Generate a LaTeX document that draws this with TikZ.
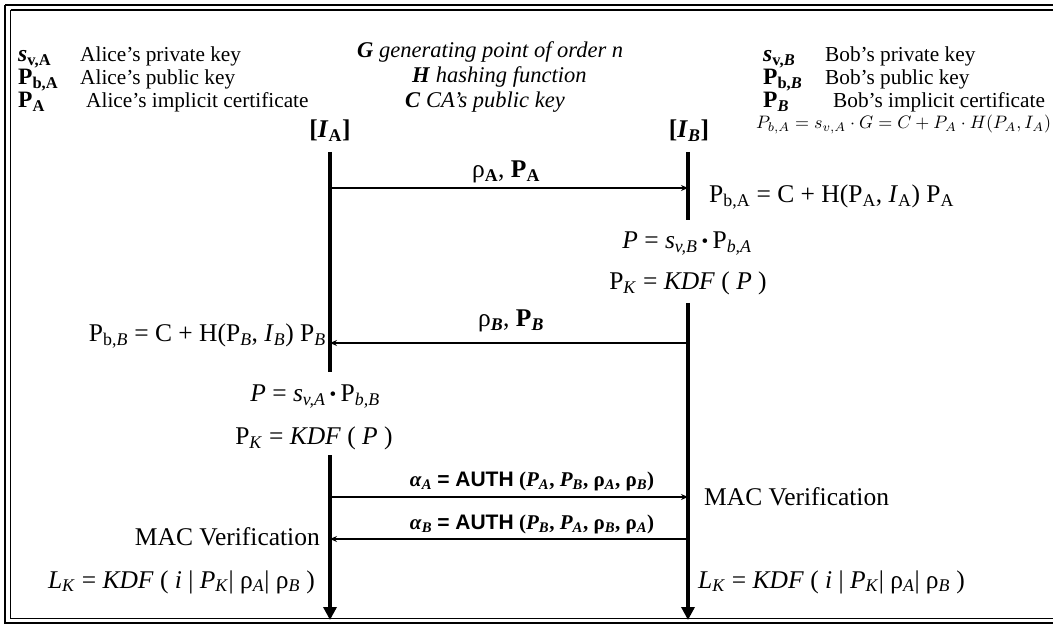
\documentclass[tikz,border=0pt]{standalone}
\usepackage{fontspec}
\setmainfont{Liberation Serif}
\setsansfont{Liberation Sans}
\usetikzlibrary{arrows.meta}
\newcommand\sbs[1]{\textsubscript{#1}}
\newcommand\cdotb{\,\raisebox{0.12ex}{\scalebox{0.75}{\textbullet}}\,}
\begin{document}
\begin{tikzpicture}[x=1pt,y=-1pt,
  txt/.style={inner sep=0pt, font=\fontsize{25.5}{30}\selectfont},
  leg/.style={inner sep=0pt, font=\fontsize{21.3}{25}\selectfont},
  sym/.style={inner sep=0pt, font=\fontsize{23.5}{27}\selectfont},
  mleg/.style={inner sep=0pt, font=\fontsize{22.5}{26}\selectfont},
  lab/.style={inner sep=0pt, font=\fontsize{21}{25}\selectfont},
  life/.style={line width=3.5pt},
  lifearrow/.style={line width=3.5pt, -{Triangle[width=13pt,length=13pt]}},
  msg/.style={line width=1.8pt, -{Stealth[length=7pt,width=6pt]}}]
\useasboundingbox (0,0) rectangle (1053,628);
% frame
\draw[line width=2.5pt] (5,5) -- (1070,5) (5,5) -- (5,623) -- (1070,623);
\draw[line width=1.1pt] (10.5,10) -- (1070,10) (10.5,10) -- (10.5,618.5) -- (1070,618.5);

% left legend
\node[sym, anchor=base west] (l1s) at (18,62) {\textbf{\textit{s}\sbs{v,A}}};
\node[leg, anchor=base west] (l1t) at (80,62) {Alice's private key};
\node[sym, anchor=base west] (l2s) at (18,85) {\textbf{P\sbs{b,A}}};
\node[leg, anchor=base west] (l2t) at (80,85) {Alice's public key};
\node[sym, anchor=base west] (l3s) at (18,108) {\textbf{P\sbs{A}}};
\node[leg, anchor=base west] (l3t) at (86,108) {Alice's implicit certificate};
% middle legend
\node[mleg, anchor=base west] (m1) at (357,58) {\textbf{\textit{G}} \textit{generating point of order n}};
\node[mleg, anchor=base west] (m2) at (412,83) {\textbf{\textit{H}} \textit{hashing function}};
\node[mleg, anchor=base west] (m3) at (405,108) {\textbf{\textit{C}} \textit{CA's public key}};
% right legend
\node[sym, anchor=base west] (r1s) at (763,62) {\textbf{\textit{s}\sbs{v,\textit{B}}}};
\node[leg, anchor=base west] (r1t) at (825,62) {Bob's private key};
\node[sym, anchor=base west] (r2s) at (763,85) {\textbf{P\sbs{b,\textit{B}}}};
\node[leg, anchor=base west] (r2t) at (825,85) {Bob's public key};
\node[sym, anchor=base west] (r3s) at (763,108) {\textbf{P\sbs{\textit{B}}}};
\node[leg, anchor=base west] (r3t) at (833,108) {Bob's implicit certificate};
\node[inner sep=0pt, anchor=base west] (rf) at (756,129) {\scalebox{1.8}{$P_{b,A}=s_{v,A}\cdot G=C+P_A\cdot H(P_A,I_A)$}};

% lifeline heads
\node[txt, anchor=base] (ia) at (330,138) {\textbf{[\textit{I}\sbs{A}]}};
\node[txt, anchor=base] (ib) at (689,138) {\textbf{[\textit{I}\sbs{\textit{B}}]}};

% lifeline coordinates
\coordinate (a0) at (330,152);
\coordinate (a1) at (330,372);
\coordinate (a2) at (330,455);
\coordinate (a3) at (330,620);
\coordinate (b0) at (688,152);
\coordinate (b1) at (688,220);
\coordinate (b2) at (688,303);
\coordinate (b3) at (688,620);
\coordinate (am1) at (330,188);  \coordinate (bm1) at (688,188);
\coordinate (am2) at (330,343);  \coordinate (bm2) at (688,343);
\coordinate (am3) at (330,497);  \coordinate (bm3) at (688,497);
\coordinate (am4) at (330,539);  \coordinate (bm4) at (688,539);

\draw[life] (a0) -- (a1);
\draw[lifearrow] (a2) -- (a3);
\draw[life] (b0) -- (b1);
\draw[lifearrow] (b2) -- (b3);

% messages
\draw[msg] (am1) -- (bm1);
\draw[msg] (bm2) -- (am2);
\draw[msg] (am3) -- (bm3);
\draw[msg] (bm4) -- (am4);

\node[txt, anchor=base] (m1l) at (506,178) {ρ\sbs{\textbf{A}}, \textbf{P\sbs{A}}};
\node[txt, anchor=base] (m2l) at (511,327) {ρ\sbs{\textbf{\textit{B}}}, \textbf{P\sbs{\textit{B}}}};
\node[lab, anchor=base] (m3l) at (532,486) {\textbf{\textit{α}\sbs{\textit{A}}} {\sffamily\bfseries = AUTH} \textbf{(\textit{P}\sbs{\textit{A}}, \textit{P}\sbs{\textit{B}}, ρ\sbs{\textit{A}}, ρ\sbs{\textit{B}})}};
\node[lab, anchor=base] (m4l) at (532,529) {\textbf{\textit{α}\sbs{\textit{B}}} {\sffamily\bfseries = AUTH} \textbf{(\textit{P}\sbs{\textit{B}}, \textit{P}\sbs{\textit{A}}, ρ\sbs{\textit{B}}, ρ\sbs{\textit{A}})}};

% Bob side computations
\node[txt, anchor=base west] (bpa) at (709,203) {P\sbs{b,A} = C + H(P\sbs{A}, \textit{I}\sbs{A}) P\sbs{A}};
\node[txt, anchor=base] (bp) at (687,249) {\textit{P} = \textit{s}\sbs{\textit{v,B}}\cdotb P\sbs{\textit{b,A}}};
\node[txt, anchor=base] (bpk) at (688,290) {P\sbs{\textit{K}} = \textit{KDF} ( \textit{P} )};
\node[txt, anchor=base west] (bmac) at (704,505) {MAC Verification};
\node[txt, anchor=base west] (blk) at (698,588) {\textit{L}\sbs{\textit{K}} = \textit{KDF} ( \textit{i} | \textit{P}\sbs{\textit{K}}| ρ\sbs{\textit{A}}| ρ\sbs{\textit{B}} )};

% Alice side computations
\node[txt, anchor=base east] (apb) at (326,342) {P\sbs{b,\textit{B}} = C + H(P\sbs{\textit{B}}, \textit{I}\sbs{\textit{B}}) P\sbs{\textit{B}}};
\node[txt, anchor=base] (ap) at (315,402) {\textit{P} = \textit{s}\sbs{\textit{v,A}}\cdotb P\sbs{\textit{b,B}}};
\node[txt, anchor=base] (apk) at (314,445) {P\sbs{\textit{K}} = \textit{KDF} ( \textit{P} )};
\node[txt, anchor=base east] (amac) at (320,545) {MAC Verification};
\node[txt, anchor=base east] (alk) at (315,588) {\textit{L}\sbs{\textit{K}} = \textit{KDF} ( \textit{i} | \textit{P}\sbs{\textit{K}}| ρ\sbs{\textit{A}}| ρ\sbs{\textit{B}} )};
\end{tikzpicture}
\end{document}
